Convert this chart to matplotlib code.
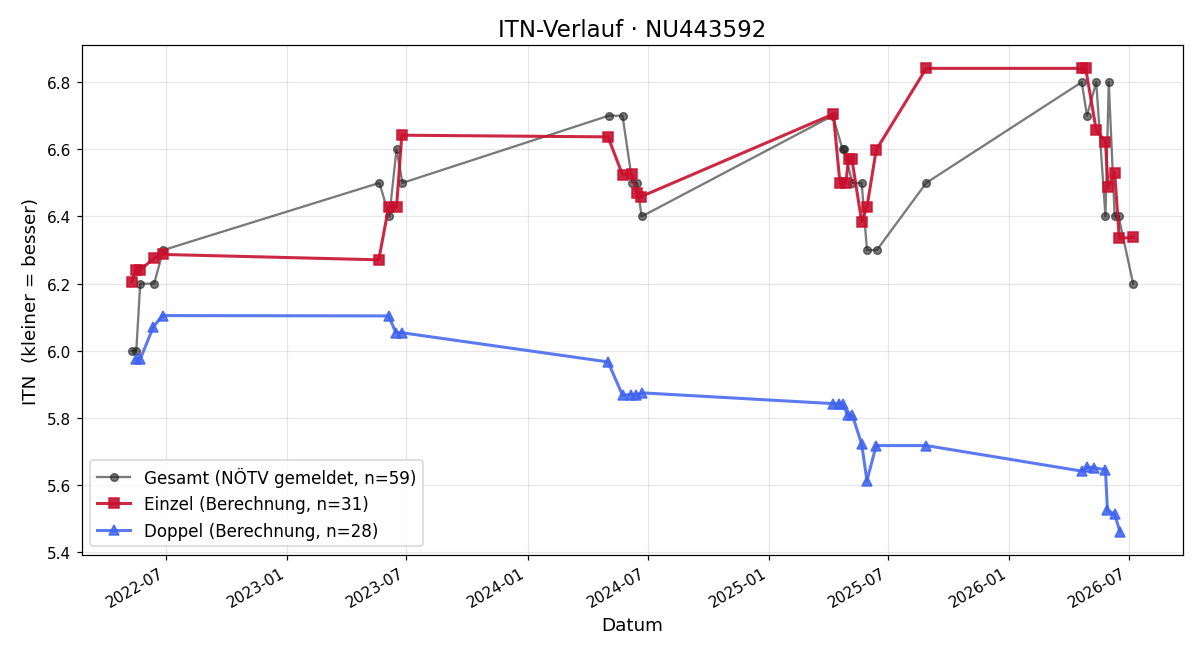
import matplotlib
matplotlib.use( 'Agg' )
import matplotlib.pyplot as plt
import matplotlib.dates as mdates
import pandas as pd

# Gesamt (NÖTV gemeldet) - sichtbare Punkte
gesamt_dates = [
    '2022-05-10', '2022-05-17', '2022-05-23', '2022-06-13', '2022-06-27',
    '2023-05-21', '2023-06-05', '2023-06-16', '2023-06-25',
    '2024-05-03', '2024-05-24', '2024-06-08', '2024-06-15', '2024-06-22',
    '2025-04-08', '2025-04-23', '2025-04-25', '2025-05-08', '2025-05-22',
    '2025-05-30', '2025-06-14', '2025-08-28',
    '2026-04-21', '2026-04-29', '2026-05-13', '2026-05-27', '2026-06-01',
    '2026-06-10', '2026-06-16', '2026-07-08',
]
gesamt_itn = [
    6.0, 6.0, 6.2, 6.2, 6.3,
    6.5, 6.4, 6.6, 6.5,
    6.7, 6.7, 6.5, 6.5, 6.4,
    6.7, 6.6, 6.6, 6.5, 6.5,
    6.3, 6.3, 6.5,
    6.8, 6.7, 6.8, 6.4, 6.8,
    6.4, 6.4, 6.2,
]

# Einzel (Berechnung)
einzel_dates = [
    '2022-05-10', '2022-05-17', '2022-05-23', '2022-06-13', '2022-06-27',
    '2023-05-20', '2023-06-04', '2023-06-16', '2023-06-24',
    '2024-05-02', '2024-05-24', '2024-06-07', '2024-06-15', '2024-06-21',
    '2025-04-09', '2025-04-19', '2025-04-28', '2025-05-02', '2025-05-07',
    '2025-05-22', '2025-05-30', '2025-06-13', '2025-08-28',
    '2026-04-22', '2026-04-27', '2026-05-13', '2026-05-27', '2026-05-31',
    '2026-06-10', '2026-06-17', '2026-07-08',
]
einzel_itn = [
    6.205, 6.241, 6.241, 6.276, 6.287,
    6.271, 6.428, 6.428, 6.642,
    6.637, 6.524, 6.527, 6.469, 6.459,
    6.705, 6.500, 6.500, 6.570, 6.572,
    6.385, 6.428, 6.598, 6.841,
    6.841, 6.841, 6.657, 6.623, 6.487,
    6.530, 6.335, 6.338,
]

# Doppel (Berechnung)
doppel_dates = [
    '2022-05-17', '2022-05-23', '2022-06-12', '2022-06-26',
    '2023-06-04', '2023-06-15', '2023-06-24',
    '2024-05-02', '2024-05-24', '2024-06-06', '2024-06-13', '2024-06-22',
    '2025-04-08', '2025-04-17', '2025-04-23', '2025-05-01', '2025-05-08',
    '2025-05-22', '2025-05-30', '2025-06-13', '2025-08-28',
    '2026-04-21', '2026-04-29', '2026-05-10', '2026-05-27', '2026-05-30',
    '2026-06-10', '2026-06-18',
]
doppel_itn = [
    5.975, 5.975, 6.072, 6.105,
    6.104, 6.054, 6.054,
    5.967, 5.868, 5.870, 5.869, 5.875,
    5.843, 5.843, 5.843, 5.808, 5.808,
    5.722, 5.614, 5.718, 5.718,
    5.642, 5.654, 5.652, 5.646, 5.526,
    5.513, 5.462,
]


fig, ax = plt.subplots( figsize = ( 12 / 1.1, 6.6 / 1.1 ), dpi = 110 )

ax.plot(
    pd.to_datetime( gesamt_dates ), gesamt_itn,
    marker = 'o', markersize = 5, linewidth = 1.5,
    color = '#222222', alpha = 0.6,
    label = 'Gesamt (NÖTV gemeldet, n=59)',
)
ax.plot(
    pd.to_datetime( einzel_dates ), einzel_itn,
    marker = 's', markersize = 6, linewidth = 2,
    color = '#c8102e', alpha = 0.9,
    label = 'Einzel (Berechnung, n=31)',
)
ax.plot(
    pd.to_datetime( doppel_dates ), doppel_itn,
    marker = '^', markersize = 6, linewidth = 2,
    color = '#3f63ee', alpha = 0.85,
    label = 'Doppel (Berechnung, n=28)',
)

ax.set_title( 'ITN-Verlauf · NU443592', fontsize = 15 )
ax.set_xlabel( 'Datum', fontsize = 12 )
ax.set_ylabel( 'ITN  (kleiner = besser)', fontsize = 12 )
ax.grid( True, alpha = 0.3 )
ax.xaxis.set_major_locator( mdates.MonthLocator( bymonth = [ 1, 7 ] ) )
ax.xaxis.set_major_formatter( mdates.DateFormatter( '%Y-%m' ) )
ax.legend( loc = 'lower left', fontsize = 11 )
fig.autofmt_xdate()

fig.subplots_adjust( left = 0.068, right = 0.986, top = 0.93, bottom = 0.158 )
fig.savefig( 'out.png', dpi = 110 )
plt.close( fig )
